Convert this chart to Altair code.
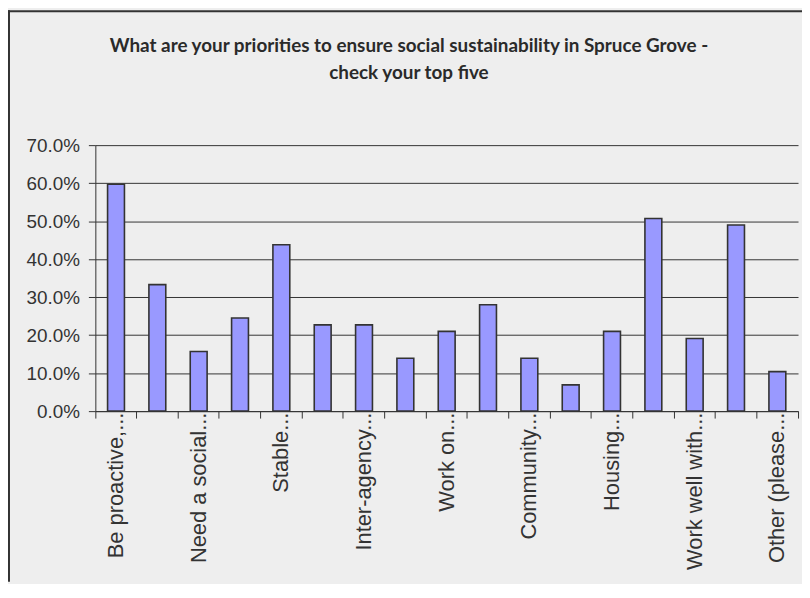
import json
import altair as alt
import pandas as pd

# ---- data ----
title_lines = [
    "What are your priorities to ensure social sustainability in Spruce Grove -",
    "check your top five",
]
labels = [
    "Be proactive,...", "", "Need a social...", "", "Stable...", "",
    "Inter-agency...", "", "Work on...", "", "Community...", "",
    "Housing...", "", "Work well with...", "", "Other (please...",
]
values = [59.7, 33.3, 15.7, 24.5, 43.8, 22.7, 22.7, 13.9, 21.0,
          28.0, 13.9, 6.9, 21.0, 50.7, 19.1, 49.0, 10.4]
y_ticks = [0.0, 0.1, 0.2, 0.3, 0.4, 0.5, 0.6, 0.7]

df = pd.DataFrame({
    "idx": list(range(1, len(values) + 1)),
    "share": [v / 100 for v in values],
})

W, H = 708, 268
PAD = {"left": 88, "top": 136, "right": 4, "bottom": 172}
DARK = "#333333"
FONT = "Liberation Sans"

xscale = alt.Scale(paddingInner=0, paddingOuter=0)
yscale = alt.Scale(domain=[0, 0.7], nice=False)

label_expr = f"{json.dumps(labels)}[datum.value - 1]"

bars = alt.Chart(df).mark_bar(
    width=17, fill="#9999ff", stroke=DARK, strokeWidth=1.6
).encode(
    x=alt.X("idx:O", scale=xscale, sort=None,
            axis=alt.Axis(title=None, orient="bottom", ticks=False, domain=False,
                          labelExpr=label_expr, labelAngle=270,
                          labelAlign="right", labelBaseline="middle",
                          labelPadding=1, labelFont=FONT, labelFontSize=22,
                          labelColor=DARK, labelOverlap=False)),
    y=alt.Y("share:Q", scale=yscale,
            axis=alt.Axis(title=None, values=y_ticks, format=".1%",
                          grid=True, gridColor=DARK, gridWidth=1,
                          domainColor=DARK, domainWidth=1,
                          tickColor=DARK, tickSize=7, labelPadding=9,
                          labelFont=FONT, labelFontSize=19, labelColor=DARK)),
)

ticks = alt.Chart(df).mark_point(opacity=0).encode(
    x=alt.X("idx:O", scale=xscale, sort=None,
            axis=alt.Axis(title=None, orient="bottom", labels=False,
                          bandPosition=0, tickColor=DARK, tickSize=7,
                          domainColor=DARK, domainWidth=1)),
)

last_tick = alt.Chart(df).mark_point(opacity=0).encode(
    x=alt.X("idx:O", scale=xscale, sort=None,
            axis=alt.Axis(title=None, orient="bottom", labels=False,
                          bandPosition=1, values=[len(values)], domain=False,
                          tickColor=DARK, tickSize=7)),
)

frame = alt.Data(values=[{"k": 1}])
left_border = alt.Chart(frame).mark_rule(color=DARK, strokeWidth=2).encode(
    x=alt.value(-PAD["left"] + 1), y=alt.value(-PAD["top"]),
    y2=alt.value(H + PAD["bottom"]))
top_border = alt.Chart(frame).mark_rule(color=DARK, strokeWidth=2).encode(
    x=alt.value(-PAD["left"]), x2=alt.value(W + PAD["right"]),
    y=alt.value(-PAD["top"] + 1))

chart = alt.layer(bars, ticks, last_tick, left_border, top_border).resolve_axis(
    x="independent"
).properties(
    width=W, height=H,
    padding=PAD,
    autosize=alt.AutoSizeParams(type="none"),
    background="#eeeeee",
    title=alt.TitleParams(
        text=title_lines,
        font="Lato, Liberation Sans",
        fontSize=19, fontWeight="bold", color="#2a2a2a", anchor="middle",
        dx=-38, offset=-74, lineHeight=27),
).configure_view(stroke=None)

chart.save("out.html", embed_options={"renderer": "svg", "actions": False})
